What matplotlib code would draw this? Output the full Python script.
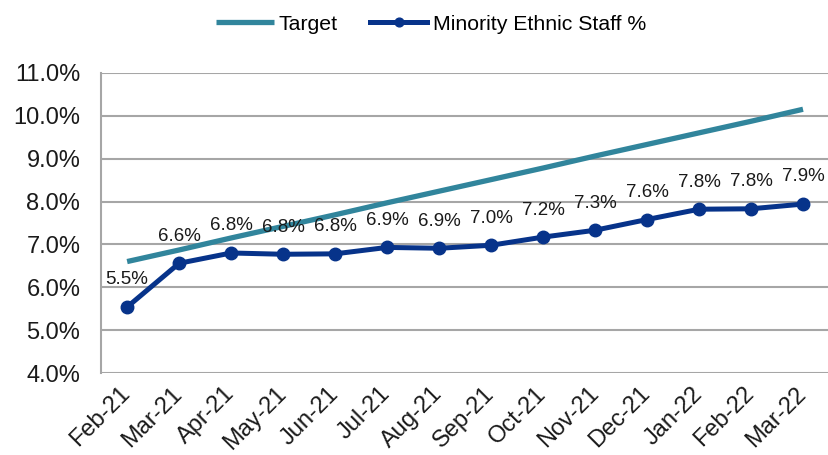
import matplotlib.pyplot as plt
from matplotlib.ticker import FuncFormatter

plt.rcParams['font.family'] = ['Liberation Sans', 'DejaVu Sans']

months = ["Feb-21", "Mar-21", "Apr-21", "May-21", "Jun-21", "Jul-21", "Aug-21",
          "Sep-21", "Oct-21", "Nov-21", "Dec-21", "Jan-22", "Feb-22", "Mar-22"]
target = [6.60, 6.87, 7.15, 7.42, 7.69, 7.97, 8.24, 8.51, 8.78, 9.06, 9.33, 9.60, 9.87, 10.15]
staff = [5.54, 6.56, 6.80, 6.77, 6.78, 6.93, 6.91, 6.98, 7.17, 7.33, 7.58, 7.82, 7.83, 7.94]

fig = plt.figure(figsize=(8.29, 4.55), dpi=100)
ax = fig.add_axes([0.122, 0.18, 0.878, 0.66])

x = list(range(len(months)))
ax.plot(x, target, color="#31859C", linewidth=3.8, label="Target", solid_capstyle="butt")
ax.plot(x, staff, color="#07338A", linewidth=3.6, marker="o", markersize=9,
        label="Minority Ethnic Staff %")

# data labels above the staff points
for i, v in enumerate(staff):
    ax.annotate(f"{v:.1f}%", xy=(i, v), xytext=(0, 19.5), textcoords="offset points",
                ha="center", va="center", fontsize=13.5, color="#1a1a1a")

ax.set_xlim(-0.5, len(months) - 0.5)
ax.set_ylim(4.0, 11.0)
ax.set_yticks([4, 5, 6, 7, 8, 9, 10, 11])
ax.yaxis.set_major_formatter(FuncFormatter(lambda v, p: f"{v:.1f}%"))
ax.set_xticks(x)
ax.set_xticklabels(months, rotation=45, ha="right", va="center", rotation_mode="anchor")

ax.grid(axis="y", color="#A6A6A6", linewidth=1.5)
ax.set_axisbelow(True)
for side in ["top", "right", "bottom"]:
    ax.spines[side].set_visible(False)
ax.spines["left"].set_color("#A6A6A6")
ax.spines["left"].set_linewidth(1.5)
ax.tick_params(axis="both", length=0, labelsize=17, colors="#1a1a1a")
ax.tick_params(axis="x", pad=12.5)
ax.tick_params(axis="y", pad=15)

fig.legend(loc="upper center", bbox_to_anchor=(0.52, 1.01), ncol=2, frameon=False,
           fontsize=15.3, handlelength=2.7, columnspacing=1.5, handletextpad=0.25,
           markerscale=0.7)

fig.savefig("out.png", dpi=100)
